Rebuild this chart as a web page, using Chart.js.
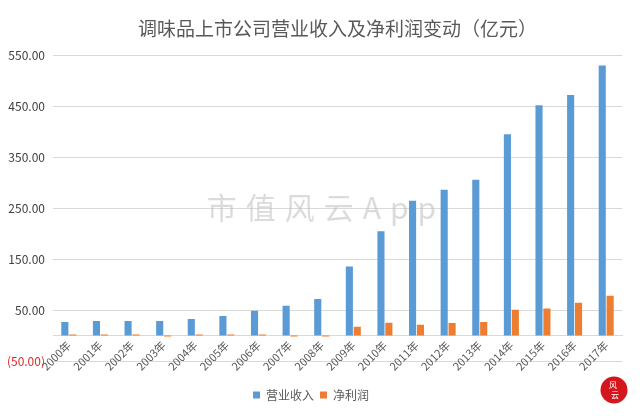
<!DOCTYPE html>
<html><head><meta charset="utf-8">
<script src="https://cdn.jsdelivr.net/npm/chart.js@4/dist/chart.umd.min.js"></script>
<style>html,body{margin:0;padding:0;background:#fff}#wrap{width:640px;height:416px}</style>
</head><body><div id="wrap"><canvas id="c" width="640" height="416"></canvas></div>
<script>
const categories = ['2000年','2001年','2002年','2003年','2004年','2005年','2006年','2007年','2008年','2009年','2010年','2011年','2012年','2013年','2014年','2015年','2016年','2017年'];
const revenue = [26.8,28.8,28.8,28.8,32.7,38.7,48.6,58.5,71.8,136,205,265,286.7,306.5,395.8,453,473,531];
const netProfit = [2,2,2,-2,2,2,2,-2,-2,17.5,25.4,21.5,24.8,26.8,50.6,53.2,64.5,78.4];
const yTicks = [-50,50,150,250,350,450,550];
const seriesNames = ['营业收入','净利润'];
const titleText = '调味品上市公司营业收入及净利润变动（亿元）';
const watermarkText = '市值风云App';

const FONT = '"Noto Sans CJK SC", "Noto Sans", sans-serif';
Chart.defaults.font.family = FONT;

const deco = {
  id: 'deco',
  afterDatasetsDraw(chart) {
    const ctx = chart.ctx;
    const y = chart.scales.y.getPixelForValue(250);
    ctx.save();
    ctx.fillStyle = 'rgba(190,190,190,0.55)';
    ctx.font = '30px ' + FONT;
    ctx.textAlign = 'center';
    ctx.textBaseline = 'middle';
    try { ctx.letterSpacing = '9px'; } catch(e) {}
    ctx.fillText(watermarkText, 326, y - 1);
    ctx.restore();
  },
  afterDraw(chart) {
    const ctx = chart.ctx;
    ctx.save();
    ctx.fillStyle = '#d5161d';
    ctx.beginPath();
    ctx.arc(614, 390, 13.5, 0, Math.PI * 2);
    ctx.fill();
    ctx.fillStyle = '#ffffff';
    ctx.font = '8px ' + FONT;
    ctx.textAlign = 'center';
    ctx.textBaseline = 'middle';
    ctx.fillText('风', 613, 385);
    ctx.fillText('云', 615, 395);
    ctx.restore();
  }
};

new Chart(document.getElementById('c'), {
  type: 'bar',
  data: {
    labels: categories,
    datasets: [
      { label: seriesNames[0], data: revenue, backgroundColor: '#5B9BD5', categoryPercentage: 0.5, barPercentage: 0.9 },
      { label: seriesNames[1], data: netProfit, backgroundColor: '#ED7D31', categoryPercentage: 0.5, barPercentage: 0.9 }
    ]
  },
  options: {
    responsive: false,
    animation: false,
    devicePixelRatio: 1,
    layout: { padding: { left: 0, right: 18, top: 0, bottom: 5 } },
    plugins: {
      title: {
        display: true, text: titleText, fullSize: false, color: '#595959',
        font: { size: 19, weight: 'normal', family: FONT },
        padding: { top: 17, bottom: 16 }
      },
      legend: {
        position: 'bottom',
        labels: { boxWidth: 7, boxHeight: 7, color: '#595959', font: { size: 12 }, padding: 6 }
      },
      tooltip: { enabled: false }
    },
    scales: {
      x: {
        position: { y: 0 },
        grid: { display: false, drawTicks: false },
        border: { display: true, color: '#d9d9d9' },
        ticks: { minRotation: 45, maxRotation: 45, autoSkip: false, color: '#595959', font: { size: 11 }, padding: 3 }
      },
      xSpace: {
        type: 'category',
        position: 'bottom',
        grid: { display: false, drawTicks: false },
        border: { display: false },
        ticks: { display: false },
        afterFit: s => { s.height = 22; }
      },
      y: {
        min: -50, max: 550,
        afterBuildTicks: s => { s.ticks = yTicks.map(v => ({ value: v })); },
        afterFit: s => { s.width = 53; },
        grid: { color: '#d9d9d9', drawTicks: false },
        border: { display: false },
        ticks: {
          padding: 8,
          font: { size: 12 },
          color: c => (c.tick && c.tick.value < 0) ? '#e0262b' : '#404040',
          callback: v => v < 0 ? '(' + Math.abs(v).toFixed(2) + ')' : v.toFixed(2)
        }
      }
    }
  },
  plugins: [deco]
});
</script>
</body></html>
